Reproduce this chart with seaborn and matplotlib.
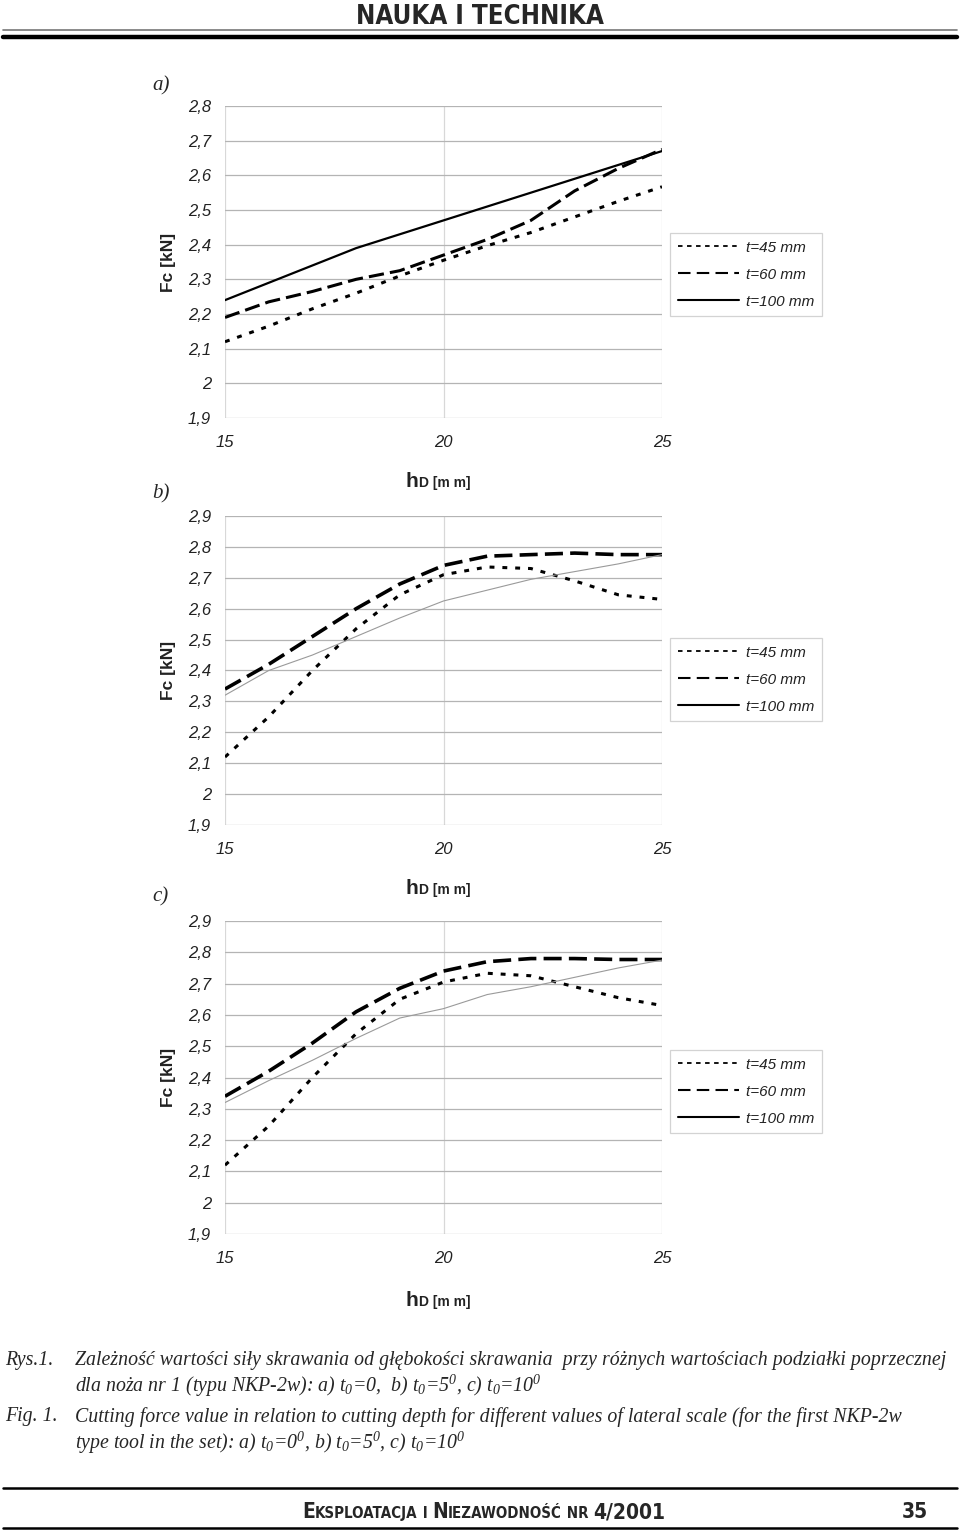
import numpy as np
import pandas as pd
import seaborn as sns
import matplotlib.pyplot as plt
from matplotlib.lines import Line2D

# hD [mm] - depth of cut, shared by all three panels
h_d = [15, 16, 17, 18, 19, 20, 21, 22, 23, 24, 25]

# a) t0 = 0
a_t45 = [2.12, 2.165, 2.215, 2.26, 2.31, 2.355, 2.397, 2.435, 2.48, 2.525, 2.567]
a_t60 = [2.19, 2.235, 2.265, 2.30, 2.325, 2.37, 2.415, 2.47, 2.555, 2.62, 2.675]
a_t100 = [2.24, 2.29, 2.34, 2.39, 2.43, 2.47, 2.51, 2.55, 2.59, 2.63, 2.67]

# b) t0 = 5
b_t45 = [2.12, 2.25, 2.40, 2.535, 2.645, 2.71, 2.735, 2.73, 2.69, 2.645, 2.63]
b_t60 = [2.34, 2.42, 2.51, 2.60, 2.68, 2.74, 2.77, 2.775, 2.78, 2.775, 2.775]
b_t100 = [2.32, 2.40, 2.45, 2.51, 2.57, 2.625, 2.66, 2.695, 2.72, 2.745, 2.775]

# c) t0 = 10
c_t45 = [2.12, 2.245, 2.40, 2.54, 2.65, 2.705, 2.733, 2.725, 2.69, 2.655, 2.63]
c_t60 = [2.34, 2.42, 2.51, 2.61, 2.685, 2.74, 2.77, 2.78, 2.78, 2.777, 2.777]
c_t100 = [2.32, 2.39, 2.455, 2.525, 2.59, 2.62, 2.665, 2.69, 2.72, 2.75, 2.775]

series_names = ['t=45 mm', 't=60 mm', 't=100 mm']
panel_letters = ['a)', 'b)', 'c)']
y_top = [2.8, 2.9, 2.9]

sns.set_style('white')
plt.rcParams['font.family'] = ['Liberation Sans', 'DejaVu Sans']
plt.rcParams['mathtext.fontset'] = 'custom'
plt.rcParams['mathtext.rm'] = 'Liberation Serif:italic'
plt.rcParams['mathtext.it'] = 'Liberation Serif:italic'

W, H = 960, 1533
fig = plt.figure(figsize=(W / 100, H / 100), dpi=100)


def fx(px):
    return px / W


def fy(py):
    return 1 - py / H


dot_style = (0, (1.6, 2.6))
dash_style = (0, (5, 2))

panels = [
    (a_t45, a_t60, a_t100, 106, 418),
    (b_t45, b_t60, b_t100, 516, 825),
    (c_t45, c_t60, c_t100, 921, 1234),
]
legend_tops = [233, 638, 1050]
label_rows = [(86, 480), (494, 887), (897, 1299)]

for i, (s45, s60, s100, top, bot) in enumerate(panels):
    ax = fig.add_axes([fx(225), fy(bot), fx(662) - fx(225), (bot - top) / H])
    df = pd.DataFrame({'hD': h_d * 3,
                       'Fc': s45 + s60 + s100,
                       't': [series_names[0]] * 11 + [series_names[1]] * 11 + [series_names[2]] * 11})
    sns.lineplot(data=df[df.t == series_names[0]], x='hD', y='Fc', ax=ax,
                 color='black', lw=2.2, linestyle=dot_style, legend=False)
    sns.lineplot(data=df[df.t == series_names[1]], x='hD', y='Fc', ax=ax,
                 color='black', lw=2.2 if i == 0 else 2.6, linestyle=dash_style, legend=False)
    if i == 0:
        sns.lineplot(data=df[df.t == series_names[2]], x='hD', y='Fc', ax=ax,
                     color='black', lw=1.6, legend=False)
    else:
        sns.lineplot(data=df[df.t == series_names[2]], x='hD', y='Fc', ax=ax,
                     color='#9a9a9a', lw=0.8, legend=False)

    ax.set_xlim(15, 25)
    ax.set_ylim(1.9, y_top[i])
    yt = np.round(np.arange(1.9, y_top[i] + 0.001, 0.1), 1)
    ax.set_yticks(yt)
    ax.set_yticklabels([('%g' % v).replace('.', ',') for v in yt])
    ax.set_xticks([15, 20, 25])
    ax.set_xticklabels(['15', '20', '25'])
    ax.grid(True, axis='y', color='#b4b4b4', lw=0.9)
    ax.grid(True, axis='x', color='#d8d8d8', lw=0.9)
    for sp in ax.spines.values():
        sp.set_visible(False)
    ax.tick_params(axis='both', which='both', length=3, width=0.8, color='#b4b4b4',
                   labelsize=12, labelcolor='#222222', pad=7)
    ax.tick_params(axis='x', pad=9)
    for lab in ax.get_xticklabels() + ax.get_yticklabels():
        lab.set_fontstyle('italic')
    ax.set_xlabel('')
    ax.set_ylabel('')

    handles = [Line2D([], [], color='black', lw=1.3, linestyle=(0, (2.5, 2.5))),
               Line2D([], [], color='black', lw=1.5, linestyle=(0, (6, 3))),
               Line2D([], [], color='black', lw=1.5)]
    leg = ax.legend(handles, series_names, loc='upper left',
                    bbox_to_anchor=(fx(670), fy(legend_tops[i])), bbox_transform=fig.transFigure,
                    borderaxespad=0, frameon=True, fancybox=False, handlelength=4.0,
                    handletextpad=0.45, labelspacing=0.85, borderpad=0.5,
                    prop={'size': 11, 'style': 'italic'})
    leg.get_frame().set_edgecolor('#c8c8c8')
    leg.get_frame().set_linewidth(0.9)
    for t in leg.get_texts():
        t.set_color('#222222')

    # y label
    fig.text(fx(168), fy((top + bot) / 2), 'Fc [kN]', rotation=90, ha='center', va='center',
             fontsize=12.5, fontweight='bold', color='#222222')
    # x label
    ly, xy = label_rows[i]
    fig.text(fx(418), fy(xy + 7), 'h', ha='right', va='baseline', fontsize=15,
             fontweight='bold', color='#222222')
    fig.text(fx(419), fy(xy + 7), 'D [m m]', ha='left', va='baseline', fontsize=10,
             fontweight='bold', color='#222222')
    # panel letter
    fig.text(fx(152), fy(ly), panel_letters[i], ha='left', va='center', fontsize=15,
             family='Liberation Serif', style='italic')

# header
narrow = dict(family=['DejaVu Sans'], fontstretch='condensed', fontweight='bold')
fig.text(0.5, fy(24), 'NAUKA I TECHNIKA', ha='center', va='baseline', fontsize=18.5, **narrow)
fig.add_artist(Line2D([fx(3), fx(957)], [fy(30), fy(30)], color='#777777', lw=1.2))
fig.add_artist(Line2D([fx(3), fx(957)], [fy(37), fy(37)], color='black', lw=3.2))

# caption
cap = dict(fontsize=14.3, family='Liberation Serif', style='italic', va='center', ha='left')
fig.text(fx(5), fy(1360), 'Rys.1.', **cap)
fig.text(fx(75), fy(1360), 'Zależność wartości siły skrawania od głębokości skrawania  przy różnych '
         'wartościach podziałki poprzecznej', **cap)
fig.text(fx(75), fy(1386), 'dla noża nr 1 (typu NKP-2w): a) $t_0$=0,  b) $t_0$=5$^0$, c) $t_0$=10$^0$', **cap)
fig.text(fx(5), fy(1417), 'Fig. 1.', **cap)
fig.text(fx(75), fy(1417), 'Cutting force value in relation to cutting depth for different values of '
         'lateral scale (for the first NKP-2w', **cap)
fig.text(fx(75), fy(1443), 'type tool in the set): a) $t_0$=0$^0$, b) $t_0$=5$^0$, c) $t_0$=10$^0$', **cap)

# footer
fig.add_artist(Line2D([fx(3), fx(957)], [fy(1488), fy(1488)], color='black', lw=1.8))
fig.add_artist(Line2D([fx(3), fx(957)], [fy(1528), fy(1528)], color='black', lw=1.8))
pieces = [('E', 15), ('KSPLOATACJA', 10.8), (' I ', 10.8), ('N', 15), ('IEZAWODNOŚĆ', 10.8),
          (' NR ', 10.8), ('4/2001', 15)]
renderer = fig.canvas.get_renderer()
x_px = 302
for txt, size in pieces:
    t = fig.text(fx(x_px), fy(1518), txt, ha='left', va='baseline', fontsize=size, **narrow)
    x_px += t.get_window_extent(renderer).width
fig.text(fx(928), fy(1518), '35', ha='right', va='baseline', fontsize=15, **narrow)

fig.savefig('out.png', dpi=100)
